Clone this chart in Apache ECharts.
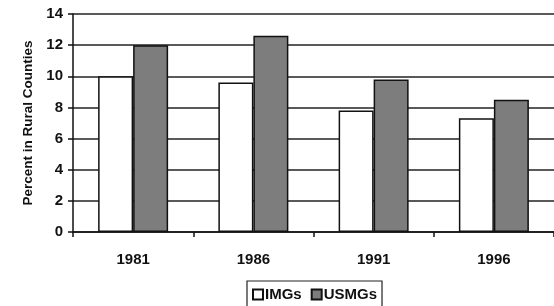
<!DOCTYPE html>
<html><head><meta charset="utf-8">
<script src="https://cdn.jsdelivr.net/npm/echarts@6/dist/echarts.min.js"></script>
<style>html,body{margin:0;padding:0;background:#fff}#c{width:554px;height:306px}</style>
</head><body><div id="c"></div>
<script>
var categories = ['1981', '1986', '1991', '1996'];
var imgs = [10.0, 9.6, 7.8, 7.3];
var usmgs = [12.0, 12.6, 9.8, 8.5];
var yTicks = [0, 2, 4, 6, 8, 10, 12, 14];

var chart = echarts.init(document.getElementById('c'), null, {renderer: 'canvas'});
var font = 'Liberation Sans, Arial, sans-serif';
chart.setOption({
  animation: false,
  backgroundColor: '#fff',
  grid: {left: 73, top: 14, width: 486, height: 218, containLabel: false},
  legend: {
    data: ['IMGs', 'USMGs'],
    bottom: -6, left: 247,
    itemWidth: 10, itemHeight: 10, itemGap: 9,
    icon: 'rect',
    borderColor: '#222', borderWidth: 1.2,
    padding: [6, 5, 10, 5],
    textStyle: {fontFamily: font, fontWeight: 'bold', fontSize: 15, color: '#111', padding: [0, 0, 0, -3]}
  },
  xAxis: {
    type: 'category', data: categories,
    axisLine: {lineStyle: {color: '#111', width: 1.5}},
    axisTick: {show: true, length: 5, lineStyle: {color: '#111', width: 1.5}},
    axisLabel: {fontFamily: font, fontWeight: 'bold', fontSize: 15, color: '#111', margin: 20}
  },
  yAxis: {
    type: 'value', min: yTicks[0], max: yTicks[yTicks.length - 1], interval: 2,
    name: 'Percent in Rural Counties', nameLocation: 'middle', nameGap: 38,
    nameTextStyle: {fontFamily: font, fontWeight: 'bold', fontSize: 13.5, color: '#111'},
    axisLine: {show: true, lineStyle: {color: '#111', width: 1.5}},
    axisTick: {show: true, length: 5, lineStyle: {color: '#111', width: 1.5}},
    axisLabel: {fontFamily: font, fontWeight: 'bold', fontSize: 15, color: '#111', margin: 10},
    splitLine: {show: true, lineStyle: {color: '#222', width: 1.5}}
  },
  series: [
    {name: 'IMGs', type: 'bar', data: imgs, barWidth: 35, barGap: '0%',
     itemStyle: {color: '#ffffff', borderColor: '#111', borderWidth: 1.5}},
    {name: 'USMGs', type: 'bar', data: usmgs, barWidth: 35, barGap: '0%',
     itemStyle: {color: '#7d7d7d', borderColor: '#111', borderWidth: 1.5}}
  ]
});
</script></body></html>
